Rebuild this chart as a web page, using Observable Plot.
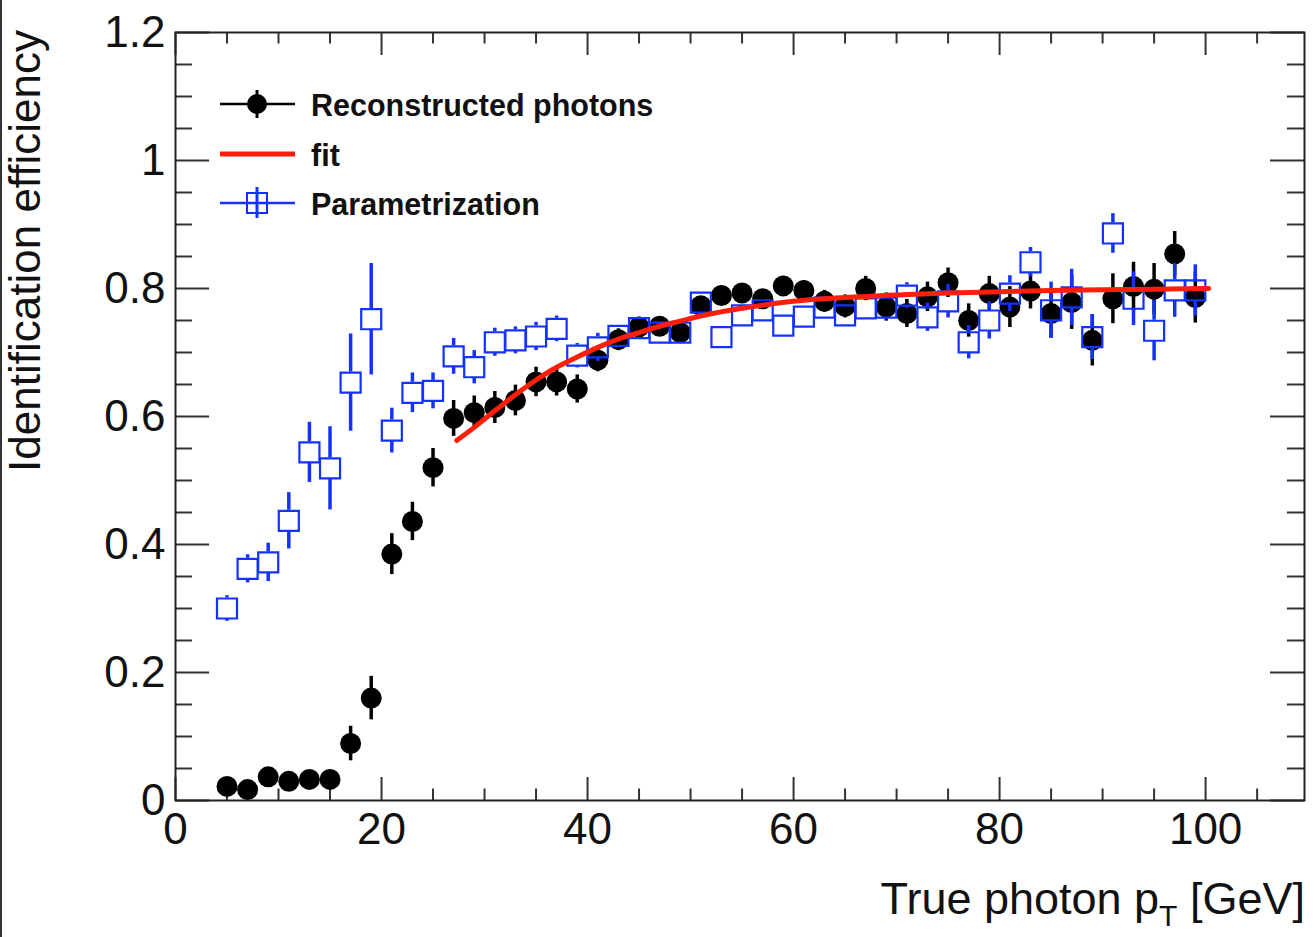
<!DOCTYPE html>
<html>
<head>
<meta charset="utf-8">
<script src="https://cdn.jsdelivr.net/npm/d3@7"></script>
<script src="https://cdn.jsdelivr.net/npm/@observablehq/plot@0.6"></script>
<style>
  html, body { margin: 0; padding: 0; background: #fff; }
  #wrap { position: relative; width: 1314px; height: 937px; overflow: hidden;
          font-family: "Liberation Sans", Arial, Helvetica, sans-serif; background: #fff; }
  #wrap > svg.overlay { position: absolute; left: 0; top: 0; pointer-events: none; }
  #edge { position: absolute; left: 0; top: 0; width: 2px; height: 937px; background: #333; }
</style>
</head>
<body>
<div id="wrap"></div>
<script>
// ---- data ----
// bin centres (true photon pT, GeV)
const binX = [5, 7, 9, 11, 13, 15, 17, 19, 21, 23, 25, 27, 29, 31, 33, 35, 37, 39, 41, 43, 45, 47, 49,
              51, 53, 55, 57, 59, 61, 63, 65, 67, 69, 71, 73, 75, 77, 79, 81, 83, 85, 87, 89, 91, 93, 95, 97, 99];

// Reconstructed photons (black dots)
const recoY = [0.022, 0.017, 0.037, 0.030, 0.033, 0.033, 0.089, 0.160, 0.385, 0.436, 0.520, 0.597,
               0.606, 0.614, 0.625, 0.654, 0.654, 0.643, 0.688, 0.720, 0.740, 0.741, 0.731,
               0.773, 0.789, 0.793, 0.784, 0.804, 0.797, 0.780, 0.772, 0.800, 0.771, 0.761, 0.787,
               0.809, 0.750, 0.792, 0.771, 0.796, 0.761, 0.778, 0.719, 0.784, 0.803, 0.799, 0.854, 0.786];
const recoErr = [0.012, 0.012, 0.013, 0.012, 0.012, 0.014, 0.027, 0.034, 0.032, 0.030, 0.030, 0.028,
                 0.026, 0.025, 0.024, 0.023, 0.022, 0.022, 0.018, 0.017, 0.015, 0.015, 0.014,
                 0.014, 0.014, 0.014, 0.014, 0.015, 0.015, 0.017, 0.018, 0.019, 0.022, 0.022, 0.023,
                 0.023, 0.026, 0.027, 0.032, 0.028, 0.038, 0.042, 0.040, 0.039, 0.038, 0.040, 0.035, 0.040];

// Parametrization (blue open squares)
const paramY = [0.300, 0.362, 0.372, 0.437, 0.544, 0.519, 0.653, 0.752, 0.578, 0.637, 0.640, 0.694,
                0.677, 0.716, 0.719, 0.725, 0.737, 0.695, 0.708, 0.726, 0.738, 0.731, 0.731,
                0.778, 0.724, 0.758, 0.766, 0.742, 0.756, 0.770, 0.758, 0.769, 0.770, 0.789, 0.755,
                0.780, 0.716, 0.750, 0.792, 0.841, 0.766, 0.786, 0.724, 0.886, 0.784, 0.734, 0.797, 0.797];
const paramErr = [0.020, 0.022, 0.030, 0.044, 0.047, 0.065, 0.076, 0.087, 0.035, 0.031, 0.028, 0.028,
                  0.026, 0.022, 0.021, 0.022, 0.020, 0.019, 0.022, 0.018, 0.017, 0.016, 0.016,
                  0.016, 0.016, 0.016, 0.016, 0.016, 0.016, 0.018, 0.017, 0.017, 0.019, 0.020, 0.022,
                  0.026, 0.026, 0.029, 0.028, 0.023, 0.044, 0.044, 0.035, 0.031, 0.042, 0.047, 0.042, 0.040];

// fit curve (red)
const fitX = [27.3, 29, 31, 33, 35, 37, 39, 41, 43, 45, 47, 49, 51, 55, 60, 65, 70, 75, 80, 85, 90, 95, 100.3];
const fitY = [0.5625, 0.583, 0.609, 0.634, 0.657, 0.677, 0.693, 0.708, 0.721, 0.731, 0.741, 0.749, 0.757,
              0.769, 0.780, 0.786, 0.790, 0.793, 0.795, 0.797, 0.798, 0.799, 0.800];

// axes
const xDomain = [0, 109.6];
const yDomain = [0, 1.2];
const xMajor = [0, 20, 40, 60, 80, 100];
const xMinor = [5, 10, 15, 25, 30, 35, 45, 50, 55, 65, 70, 75, 85, 90, 95, 105];
const yMajor = [0, 0.2, 0.4, 0.6, 0.8, 1, 1.2];
const yMinor = [0.05, 0.1, 0.15, 0.25, 0.3, 0.35, 0.45, 0.5, 0.55, 0.65, 0.7, 0.75, 0.85, 0.9, 0.95, 1.05, 1.1, 1.15];

const xTitle = "True photon p";
const xTitleSub = "T";
const xTitleTail = " [GeV]";
const yTitle = "Identification efficiency";
const legendLabels = ["Reconstructed photons", "fit", "Parametrization"];

// ---- layout / style ----
const W = 1314, H = 937;
const mL = 175, mR = 10, mT = 32, mB = 137;
const fw = W - mL - mR, fh = H - mT - mB;
const BLUE = "#1432ff", RED = "#ff1e0a", INK = "#111";
const tickCol = "#333";
const yMajLen = 34, yMinLen = 17, xMajLen = 23, xMinLen = 11.5;

const reco = binX.map((x, i) => ({x, y: recoY[i], e: recoErr[i]}));
const param = binX.map((x, i) => ({x, y: paramY[i], e: paramErr[i]}));
const fit = fitX.map((x, i) => ({x, y: fitY[i]}));

// blue error bars leave a gap for the open square marker (half side in px -> data units)
const pxPerY = fh / (yDomain[1] - yDomain[0]);
const gapY = 10.5 / pxPerY;
const paramBars = param.filter(d => d.e > gapY + 0.002);

const chart = Plot.plot({
  width: W, height: H,
  marginLeft: mL, marginRight: mR, marginTop: mT, marginBottom: mB,
  x: {domain: xDomain},
  y: {domain: yDomain},
  style: {fontFamily: '"Liberation Sans", Arial, Helvetica, sans-serif', color: INK, background: "transparent", overflow: "visible"},
  marks: [
    // ticks (inside the frame, on all four sides)
    Plot.tickY(yMajor, {y: d => d, insetRight: fw - yMajLen, stroke: tickCol, strokeWidth: 2}),
    Plot.tickY(yMinor, {y: d => d, insetRight: fw - yMinLen, stroke: tickCol, strokeWidth: 2}),
    Plot.tickY(yMajor, {y: d => d, insetLeft: fw - yMajLen, stroke: tickCol, strokeWidth: 2}),
    Plot.tickY(yMinor, {y: d => d, insetLeft: fw - yMinLen, stroke: tickCol, strokeWidth: 2}),
    Plot.tickX(xMajor, {x: d => d, insetTop: fh - xMajLen, stroke: tickCol, strokeWidth: 2}),
    Plot.tickX(xMinor, {x: d => d, insetTop: fh - xMinLen, stroke: tickCol, strokeWidth: 2}),
    Plot.tickX(xMajor, {x: d => d, insetBottom: fh - xMajLen, stroke: tickCol, strokeWidth: 2}),
    Plot.tickX(xMinor, {x: d => d, insetBottom: fh - xMinLen, stroke: tickCol, strokeWidth: 2}),
    Plot.frame({stroke: "#222", strokeWidth: 2}),
    Plot.axisY(yMajor, {tickSize: 0, tickPadding: 10, fontSize: 44, tickFormat: d => String(d), label: null, fill: INK}),
    Plot.axisX(xMajor, {tickSize: 0, tickPadding: 12, fontSize: 44, tickFormat: d => String(d), label: null, fill: INK}),

    // reconstructed photons
    Plot.ruleX(reco, {x: "x", y1: d => d.y - d.e, y2: d => d.y + d.e, stroke: "#000", strokeWidth: 3.5}),
    Plot.dot(reco, {x: "x", y: "y", r: 10.5, fill: "#000", stroke: "none"}),

    // parametrization
    Plot.ruleX(paramBars, {x: "x", y1: d => d.y + gapY, y2: d => d.y + d.e, stroke: BLUE, strokeWidth: 3.5}),
    Plot.ruleX(paramBars, {x: "x", y1: d => d.y - d.e, y2: d => d.y - gapY, stroke: BLUE, strokeWidth: 3.5}),
    Plot.dot(param, {x: "x", y: "y", symbol: "square", r: 11.3, fill: "none", stroke: BLUE, strokeWidth: 2.2}),

    // fit
    Plot.line(fit, {x: "x", y: "y", stroke: RED, strokeWidth: 5, curve: "monotone-x"})
  ]
});

const wrap = document.getElementById("wrap");
wrap.appendChild(chart);

// overlay: axis titles and legend
const ns = "http://www.w3.org/2000/svg";
const ov = document.createElementNS(ns, "svg");
ov.setAttribute("class", "overlay");
ov.setAttribute("width", W);
ov.setAttribute("height", H);
ov.setAttribute("font-family", '"Liberation Sans", Arial, Helvetica, sans-serif');
function el(tag, attrs, text) {
  const e = document.createElementNS(ns, tag);
  for (const k in attrs) e.setAttribute(k, attrs[k]);
  if (text != null) e.textContent = text;
  ov.appendChild(e);
  return e;
}
// y title (rotated, top-aligned)
el("text", {transform: "translate(40,30) rotate(-90)", "text-anchor": "end", "font-size": 44, fill: INK}, yTitle);
// x title with subscript
const xt = el("text", {x: 1305, y: 914, "text-anchor": "end", "font-size": 45, fill: INK});
xt.setAttribute("xml:space", "preserve");
const t1 = document.createElementNS(ns, "tspan"); t1.textContent = xTitle; xt.appendChild(t1);
const t2 = document.createElementNS(ns, "tspan"); t2.textContent = xTitleSub;
t2.setAttribute("font-size", 30); t2.setAttribute("dy", 12); xt.appendChild(t2);
const t3 = document.createElementNS(ns, "tspan"); t3.textContent = xTitleTail;
t3.setAttribute("dy", -12); xt.appendChild(t3);

// legend
const lx1 = 220, lx2 = 295, lmx = 257, ltx = 311;
// reconstructed photons
el("line", {x1: lx1, x2: lx2, y1: 104, y2: 104, stroke: "#000", "stroke-width": 2.5});
el("line", {x1: lmx, x2: lmx, y1: 90, y2: 118, stroke: "#000", "stroke-width": 3});
el("circle", {cx: lmx, cy: 104, r: 10, fill: "#000"});
el("text", {x: ltx, y: 116, "font-size": 30.5, "font-weight": "bold", fill: INK}, legendLabels[0]);
// fit
el("line", {x1: lx1, x2: lx2, y1: 154, y2: 154, stroke: RED, "stroke-width": 5});
el("text", {x: ltx, y: 166, "font-size": 30.5, "font-weight": "bold", fill: INK}, legendLabels[1]);
// parametrization
el("line", {x1: lx1, x2: lx2, y1: 203, y2: 203, stroke: BLUE, "stroke-width": 2.5});
el("line", {x1: lmx, x2: lmx, y1: 187, y2: 218, stroke: BLUE, "stroke-width": 3});
el("rect", {x: lmx - 10, y: 193, width: 20, height: 20, fill: "none", stroke: BLUE, "stroke-width": 2});
el("text", {x: ltx, y: 215, "font-size": 30.5, "font-weight": "bold", fill: INK}, legendLabels[2]);

wrap.appendChild(ov);
const edge = document.createElement("div");
edge.id = "edge";
wrap.appendChild(edge);
</script>
</body>
</html>
